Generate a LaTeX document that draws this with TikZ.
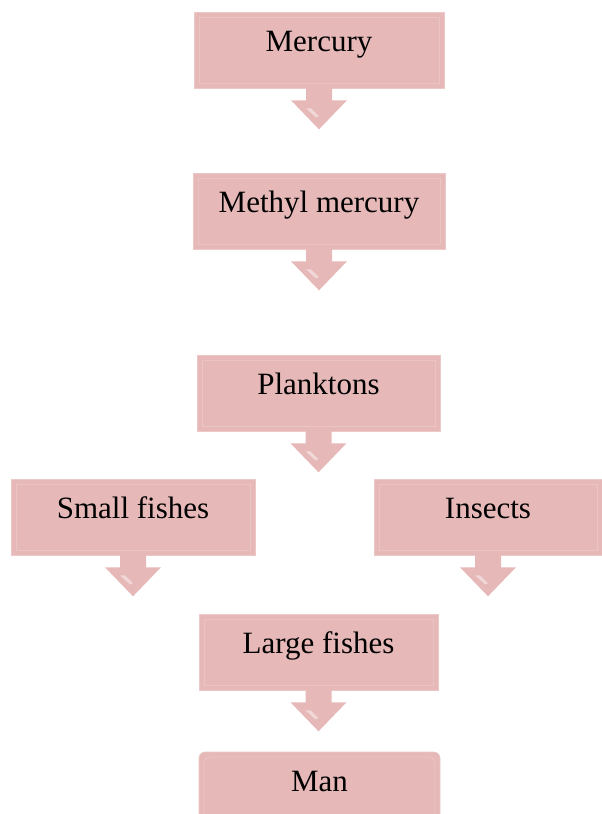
\documentclass[tikz,border=0pt]{standalone}
\usepackage{fontspec}
\setmainfont{Liberation Serif}
\definecolor{chainpink}{RGB}{230, 185, 184}
\definecolor{chainedge}{RGB}{236, 200, 199}
\definecolor{chainbevel}{RGB}{235, 197, 196}
\usetikzlibrary{positioning}
\tikzset{
  chainbox/.style = {
    rectangle,
    fill=chainpink,
    draw=chainedge,
    line width=0.6pt,
    text=black,
    font=\fontsize{31}{36}\selectfont,
    align=center,
    inner xsep=0pt,
    inner ysep=0pt,
    text height=39pt,
    text depth=37pt,
    path picture={
      \draw[chainbevel, line width=0.8pt]
        ([shift={(5pt,5pt)}]path picture bounding box.south west)
        rectangle ([shift={(-5pt,-5pt)}]path picture bounding box.north east);
    }
  },
  droparrow/.style = {
    fill=chainpink
  },
  droplight/.style = {
    fill=white, opacity=0.45
  }
}
% arrow hanging below a box
\newcommand{\dropfrom}[1]{%
  \fill[droparrow] (#1.south) ++(-13,-1) -- ++(0,13) -- ++(-15,0)
    -- ++(28,29) -- ++(28,-29) -- ++(-15,0) -- ++(0,-13) -- cycle;
  \fill[droplight] (#1.south) ++(-13,20) -- ++(5,0) -- ++(8,8) -- ++(-3,1) -- cycle;
}

\begin{document}
\begin{tikzpicture}[x=1pt, y=-1pt]
  \useasboundingbox (0,0) rectangle (602,814);

  % Top of the chain
  \node[chainbox, minimum width=250pt] at (319,50) (mercury) {Mercury};
  \node[chainbox, minimum width=252pt] at (319,211) (methyl) {Methyl mercury};
  \node[chainbox, minimum width=243pt] at (318.5,393) (plankton) {Planktons};

  % Two branches
  \node[chainbox, minimum width=244pt] at (133,517) (smallfish) {Small fishes};
  \node[chainbox, minimum width=228pt] at (488,517) (insects) {Insects};

  % Bottom of the chain
  \node[chainbox, minimum width=239pt] at (318.5,652) (largefish) {Large fishes};
  \node[chainbox, minimum width=241pt, rounded corners=6pt] at (319.5,790) (man) {Man};

  \dropfrom{mercury}
  \dropfrom{methyl}
  \dropfrom{plankton}
  \dropfrom{smallfish}
  \dropfrom{insects}
  \dropfrom{largefish}
\end{tikzpicture}
\end{document}
